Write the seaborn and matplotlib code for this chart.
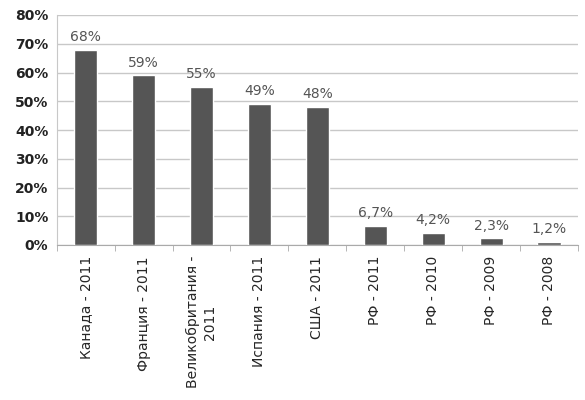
import pandas as pd
import seaborn as sns
import matplotlib.pyplot as plt
from matplotlib.ticker import PercentFormatter

# data
categories = ['Канада - 2011', 'Франция - 2011', 'Великобритания -\n2011', 'Испания - 2011',
              'США - 2011', 'РФ - 2011', 'РФ - 2010', 'РФ - 2009', 'РФ - 2008']
values = [68, 59, 55, 49, 48, 6.7, 4.2, 2.3, 1.2]
value_labels = ['68%', '59%', '55%', '49%', '48%', '6,7%', '4,2%', '2,3%', '1,2%']

df = pd.DataFrame({'cat': categories, 'val': values})

sns.set_style('white')
plt.rcParams['font.family'] = ['DejaVu Sans']

fig = plt.figure(figsize=(5.85, 4), dpi=100)
ax = fig.add_axes([0.097, 0.3875, 0.891, 0.575])
sns.barplot(data=df, x='cat', y='val', color='#555555', saturation=1, width=0.4, ax=ax, zorder=3)

for i, (v, lab) in enumerate(zip(values, value_labels)):
    ax.text(i, v + 2, lab, ha='center', va='bottom', fontsize=10, color='#555555')

ax.set_ylim(0, 80)
ax.set_yticks(range(0, 81, 10))
ax.yaxis.set_major_formatter(PercentFormatter(decimals=0))
ax.set_xlim(-0.5, len(categories) - 0.5)
ax.set_xlabel('')
ax.set_ylabel('')
ax.grid(axis='y', color='#c8c8c8', linewidth=1, zorder=0)
for s in ['top', 'right']:
    ax.spines[s].set_visible(False)
ax.spines['bottom'].set_color('#aaaaaa')
ax.spines['left'].set_color('#c8c8c8')

ax.set_xticks([i + 0.5 for i in range(-1, len(categories))], minor=True)
ax.tick_params(axis='x', which='minor', length=4, color='#aaaaaa', bottom=True)
ax.tick_params(axis='x', which='major', length=0, pad=8)
ax.tick_params(axis='y', length=0, pad=6)
plt.setp(ax.get_xticklabels(), rotation=90, fontsize=10, ha='center', va='top', multialignment='center')
plt.setp(ax.get_yticklabels(), fontsize=10, fontweight='bold', color='#222222')

fig.savefig('out.png', dpi=100)
